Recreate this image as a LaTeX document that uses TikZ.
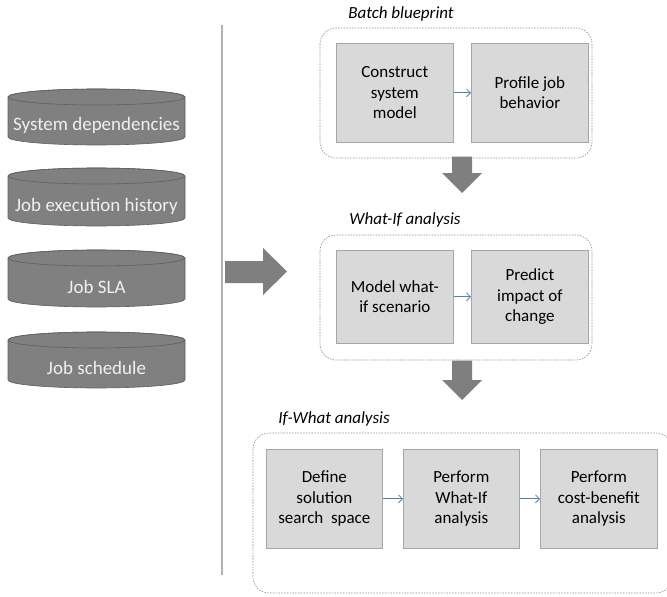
\documentclass[tikz,border=0pt]{standalone}
\usepackage{fontspec}
\setmainfont{Carlito}
\usetikzlibrary{arrows.meta}
\definecolor{boxfill}{HTML}{D9D9D9}
\definecolor{boxline}{HTML}{A6A6A6}
\definecolor{bigarrow}{HTML}{7F7F7F}
\definecolor{grpline}{HTML}{8497B0}
\definecolor{conn}{HTML}{4F81BD}
\definecolor{cylfill}{HTML}{808080}
\definecolor{cylline}{HTML}{5F5F5F}
\newcommand\dbcyl[4]{% name, top y, bottom y, text
  \path[fill=cylfill,draw=cylline,line width=0.6pt]
    (8,#2+8) -- (8,#3-8) arc[start angle=180,end angle=0,x radius=88.5,y radius=8]
    -- (185,#2+8) arc[start angle=0,end angle=-180,x radius=88.5,y radius=8] -- cycle;
  \draw[cylline,line width=0.6pt] (96.5,#2+8) ellipse[x radius=88.5,y radius=8];
  \node[cyltext] (#1) at (96.5,#3-20) {#4};
}
\newcommand\downarrowshape[2]{% top y, tip y
  \fill[bigarrow] (452,#1) -- (472,#1) -- (472,#2-20) -- (482,#2-20) -- (462,#2)
    -- (442,#2-20) -- (452,#2-20) -- cycle;
}
\begin{document}
\begin{tikzpicture}[x=1pt,y=-1pt,
  stepbox/.style={draw=boxline,fill=boxfill,line width=0.7pt,align=center,
    font=\fontsize{17}{20.5}\selectfont,inner sep=0pt,anchor=north west},
  group/.style={draw=grpline,line width=0.6pt,dash pattern=on 1.6pt off 1.2pt,rounded corners=16pt},
  grptitle/.style={font=\fontsize{17}{20}\selectfont\itshape,anchor=base},
  cyltext/.style={text=white!94!black,font=\fontsize{19}{22}\selectfont,inner sep=0pt},
  flow/.style={draw=conn,line width=0.8pt,-{Straight Barb[length=4pt,width=8pt]}}]
\useasboundingbox (0,0) rectangle (667,597);

% cylinders
\dbcyl{cA}{89}{145}{System dependencies}
\dbcyl{cB}{168}{226}{Job execution history}
\dbcyl{cC}{250}{307}{Job SLA}
\dbcyl{cD}{332}{388}{Job schedule}

% separator
\draw[line width=1.2pt,color=black!30] (222,25) coordinate (sepT) -- (222,575) coordinate (sepB);

% big right arrow
\fill[bigarrow] (225,261) -- (263,261) -- (263,248) -- (287,271.5) -- (263,295)
  -- (263,283) -- (225,283) -- cycle;

% Batch blueprint
\draw[group] (320,28) rectangle (592,158);
\node[grptitle] (tA) at (401,19) {Batch blueprint};
\node[stepbox,minimum width=117pt,minimum height=99pt] (b1) at (336,43) {Construct\\system\\model};
\node[stepbox,minimum width=117pt,minimum height=99pt] (b2) at (471,43) {Profile job\\behavior};
\draw[flow] (b1) -- (b2);

\downarrowshape{156.5}{193}

% What-If
\draw[group] (320,235) rectangle (592,360);
\node[grptitle] (tB) at (405,224) {What-If analysis};
\node[stepbox,minimum width=117pt,minimum height=93pt] (w1) at (336,250) {Model what-\\if scenario};
\node[stepbox,minimum width=117pt,minimum height=93pt] (w2) at (471,250) {Predict\\impact of\\change};
\draw[flow] (w1) -- (w2);

\downarrowshape{360.5}{400}

% If-What
\draw[group] (253,433) rectangle (672,593);
\node[grptitle] (tC) at (334,423) {If-What analysis};
\node[stepbox,minimum width=116pt,minimum height=99pt] (i1) at (266,449) {Define\\solution\\search~ space};
\node[stepbox,minimum width=116pt,minimum height=99pt] (i2) at (403,449) {Perform\\What-If\\analysis};
\node[stepbox,minimum width=117pt,minimum height=99pt] (i3) at (540,449) {Perform\\cost-benefit\\analysis};
\draw[flow] (i1) -- (i2);
\draw[flow] (i2) -- (i3);
\end{tikzpicture}
\end{document}
